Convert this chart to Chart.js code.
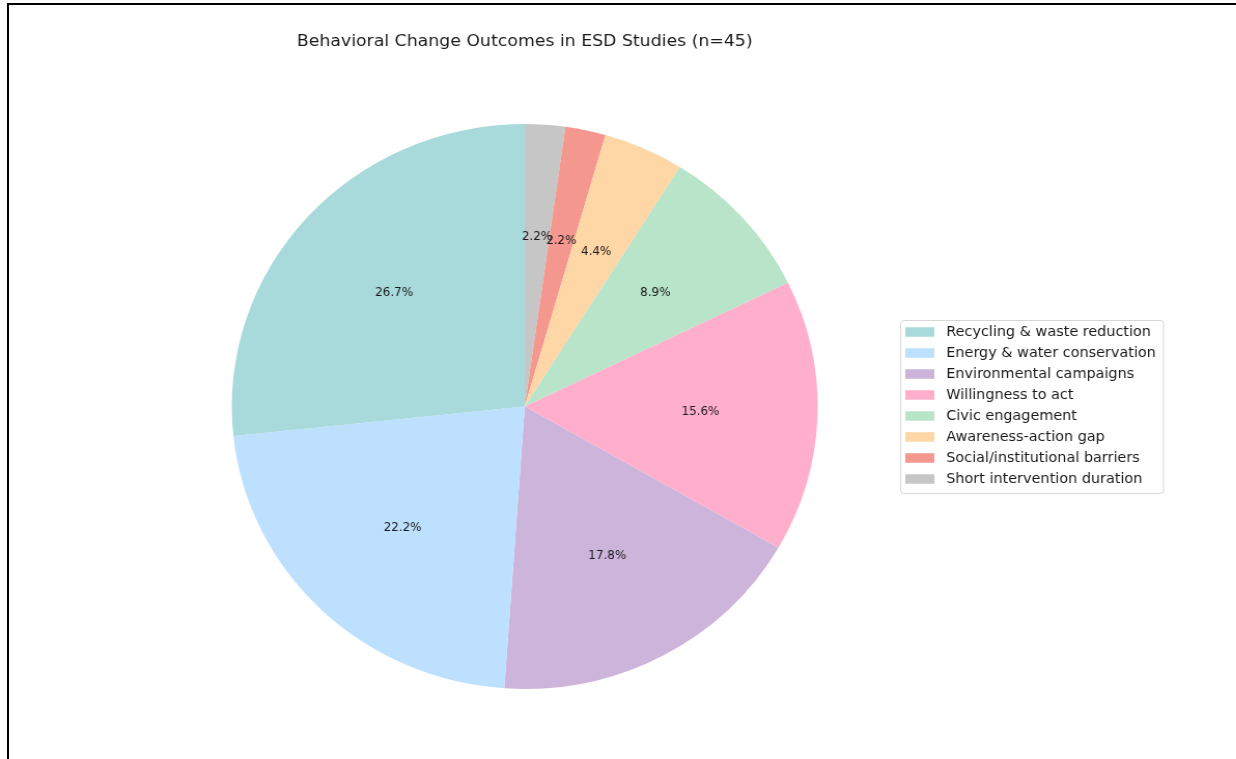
<!DOCTYPE html>
<html>
<head>
<meta charset="utf-8">
<title>Behavioral Change Outcomes</title>
<script src="https://cdn.jsdelivr.net/npm/chart.js@4.4.0/dist/chart.umd.min.js"></script>
<style>
    html, body { margin: 0; padding: 0; background: #fff; overflow: hidden; }
    #marco {
        position: absolute; left: 7px; top: 3px; width: 1300px; height: 800px;
        border-left: 2px solid #000; border-top: 2px solid #000;
    }
    #lienzo {
        position: absolute; left: 0; top: 0;
        transform: scaleX(1.037); transform-origin: 0 0;
    }
</style>
</head>
<body>
<div id="marco"></div>
<div id="lienzo">
    <canvas id="chartResultados" width="1192" height="759"></canvas>
</div>
<script>
// DATOS
const categorias = [
    "Recycling & waste reduction",
    "Energy & water conservation",
    "Environmental campaigns",
    "Willingness to act",
    "Civic engagement",
    "Awareness-action gap",
    "Social/institutional barriers",
    "Short intervention duration"
];
const estudios = [12, 10, 8, 7, 4, 2, 1, 1];
const colores = ["#a8dadc", "#bde0fe", "#cdb4db", "#ffafcc", "#b8e4c9", "#ffd6a5", "#f4978e", "#c6c6c6"];
const titulo = "Behavioral Change Outcomes in ESD Studies (n=45)";

const FUENTE = "'DejaVu Sans', sans-serif";
const total = estudios.reduce((a, b) => a + b, 0);

// Chart.js dibuja en sentido horario: se invierte el orden para que el primer sector
// quede a la izquierda del eje vertical
const etiquetasInv = categorias.slice().reverse();
const valoresInv = estudios.slice().reverse();
const coloresInv = colores.slice().reverse();

// --- Porcentajes dentro de cada sector ---
const pluginPorcentajes = {
    id: "porcentajes",
    afterDatasetsDraw(chart) {
        const ctx = chart.ctx;
        const arcos = chart.getDatasetMeta(0).data;
        ctx.save();
        ctx.font = "11.5px " + FUENTE;
        ctx.fillStyle = "#1a1a1a";
        ctx.textAlign = "center";
        ctx.textBaseline = "middle";
        // mismo orden de dibujo que la leyenda
        for (let i = arcos.length - 1; i >= 0; i--) {
            const a = arcos[i];
            const medio = (a.startAngle + a.endAngle) / 2;
            const r = a.outerRadius * 0.6;
            const texto = (valoresInv[i] / total * 100).toFixed(1) + "%";
            ctx.fillText(texto, a.x + Math.cos(medio) * r, a.y + Math.sin(medio) * r);
        }
        ctx.restore();
    }
};

// --- Titulo y leyenda con recuadro ---
const pluginDecoracion = {
    id: "decoracion",
    afterDraw(chart) {
        const ctx = chart.ctx;
        ctx.save();

        ctx.font = "16.7px " + FUENTE;
        ctx.fillStyle = "#1a1a1a";
        ctx.textAlign = "center";
        ctx.textBaseline = "alphabetic";
        ctx.fillText(titulo, 506, 46);

        // recuadro de la leyenda
        const x0 = 868, y0 = 320, w = 253.5, h = 173, rad = 3;
        ctx.beginPath();
        ctx.roundRect(x0 + 0.5, y0 + 0.5, w, h, rad);
        ctx.fillStyle = "rgba(255,255,255,0.8)";
        ctx.fill();
        ctx.strokeStyle = "#d6d6d6";
        ctx.lineWidth = 1;
        ctx.stroke();

        ctx.font = "13.9px " + FUENTE;
        ctx.textAlign = "left";
        ctx.textBaseline = "middle";
        categorias.forEach((cat, i) => {
            const y = 332 + i * 21;
            ctx.fillStyle = colores[i];
            ctx.fillRect(873, y - 4.75, 28, 9.5);
            ctx.fillStyle = "#1a1a1a";
            ctx.fillText(cat, 912.5, y + 0.5);
        });

        ctx.restore();
    }
};

const chartResultados = new Chart(document.getElementById("chartResultados"), {
    type: "pie",
    data: {
        labels: etiquetasInv,
        datasets: [{
            data: valoresInv,
            backgroundColor: coloresInv,
            borderWidth: 0,
            hoverOffset: 0,
            offset: 0
        }]
    },
    options: {
        responsive: false,
        animation: false,
        events: [],
        radius: 282.5,
        layout: { padding: { left: 0, right: 180, top: 54, bottom: 0 } },
        plugins: {
            legend: { display: false },
            title: { display: false },
            tooltip: { enabled: false }
        }
    },
    plugins: [pluginPorcentajes, pluginDecoracion]
});
</script>
</body>
</html>
